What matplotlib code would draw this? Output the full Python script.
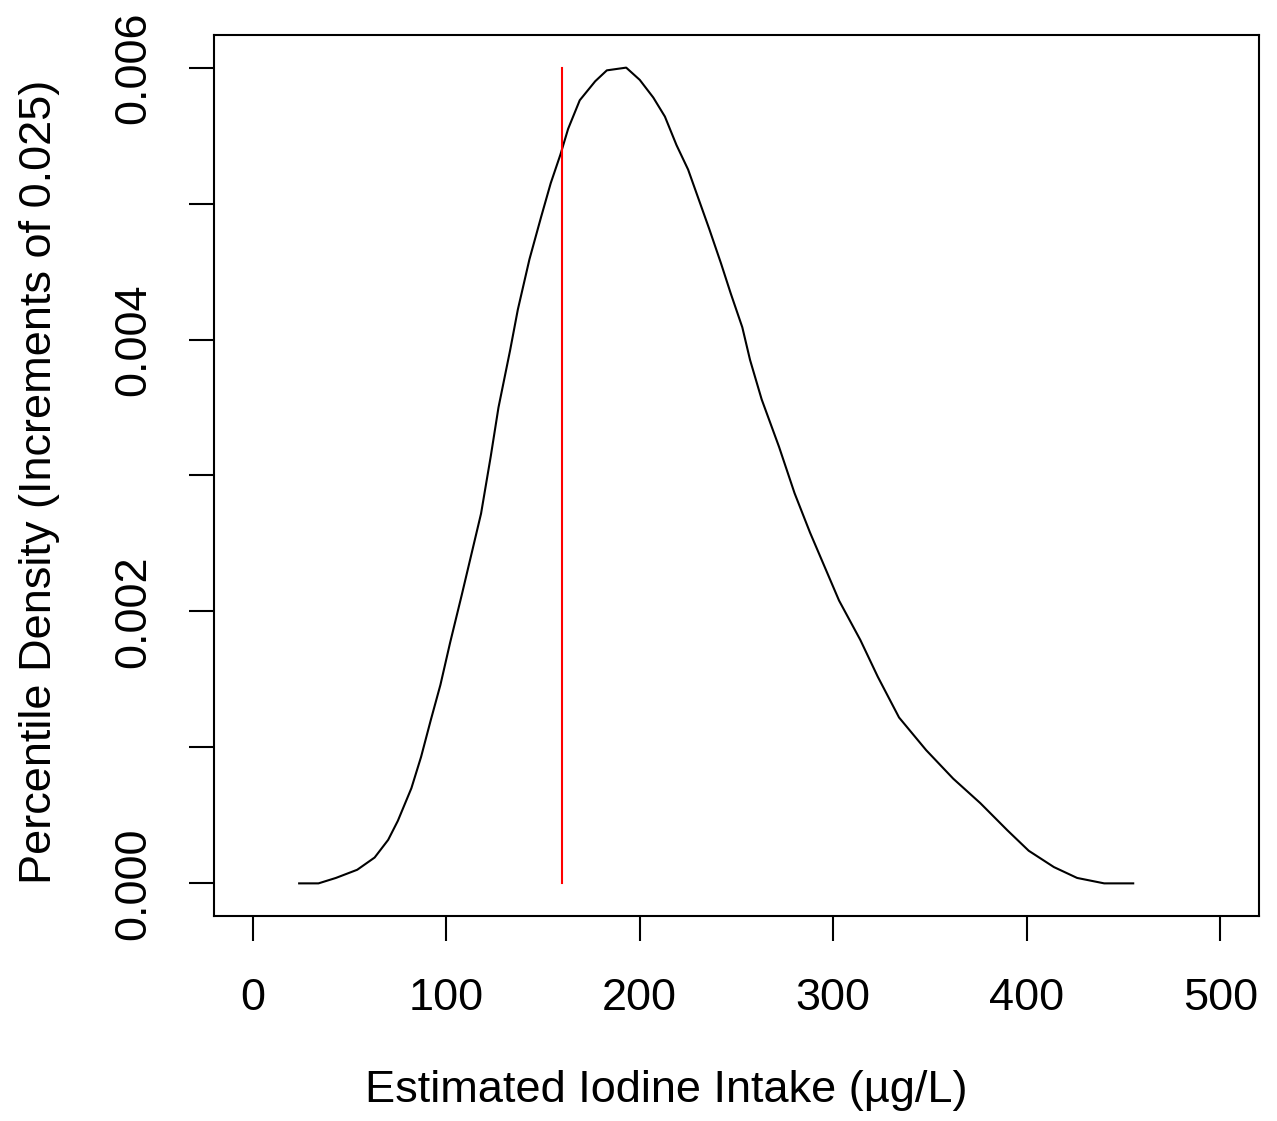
import matplotlib
matplotlib.use("Agg")
import matplotlib.pyplot as plt

# density curve (intake in ug/L, density)
intake = [24, 34, 43, 54, 63, 70, 75, 82, 87, 92, 97, 102, 108, 118, 123, 127,
          133, 137, 143, 149, 154, 159, 163, 169, 177, 183, 193, 200, 207, 213,
          219, 225, 231, 236, 242, 247, 253, 257, 263, 272, 280, 288, 297, 303,
          314, 323, 334, 348, 362, 376, 390, 401, 414, 426, 440, 455]
density = [0.0, 0.0, 0.00004, 0.0001, 0.00019, 0.00032, 0.00046, 0.0007,
           0.00093, 0.0012, 0.00146, 0.00177, 0.00212, 0.00272, 0.00314, 0.00350,
           0.00392, 0.00422, 0.00459, 0.0049, 0.00515, 0.00536, 0.00555, 0.00576,
           0.0059, 0.00598, 0.006, 0.00591, 0.00578, 0.00564, 0.00543, 0.00525,
           0.00501, 0.00481, 0.00456, 0.00434, 0.00409, 0.00385, 0.00356, 0.00321,
           0.00287, 0.00258, 0.00228, 0.00208, 0.00179, 0.00152, 0.00122, 0.00098,
           0.00077, 0.00059, 0.00039, 0.00024, 0.00012, 0.00004, 0.0, 0.0]

ref_x = 160
ref_y = [0.0, 0.006]

x_ticks = [0, 100, 200, 300, 400, 500]
y_ticks = [0.000, 0.001, 0.002, 0.003, 0.004, 0.005, 0.006]
y_labels = ["0.000", "", "0.002", "", "0.004", "", "0.006"]

plt.rcParams["font.family"] = ["Liberation Sans", "DejaVu Sans"]
FS = 32.5

fig = plt.figure(figsize=(12.77, 11.21), dpi=100)
ax = fig.add_axes([214 / 1277, 1 - 916 / 1121, (1259 - 214) / 1277, (916 - 35) / 1121])

ax.plot(intake, density, color="black", lw=1.5)
ax.plot([ref_x, ref_x], ref_y, color="red", lw=1.5)

ax.set_xlim(-20, 520)
ax.set_ylim(-0.00024, 0.00624)
ax.set_xticks(x_ticks)
ax.set_xticklabels([str(v) for v in x_ticks])
ax.set_yticks(y_ticks)
ax.set_yticklabels(y_labels, rotation=90, va="center")

for s in ax.spines.values():
    s.set_linewidth(1.5)
ax.tick_params(axis="both", length=18, width=1.5, labelsize=FS)
ax.tick_params(axis="x", pad=27)
ax.tick_params(axis="y", pad=25)

ax.set_xlabel("Estimated Iodine Intake (µg/L)", fontsize=FS)
ax.set_ylabel("Percentile Density (Increments of 0.025)", fontsize=FS)
ax.xaxis.set_label_coords(0.4325, -0.175)
ax.yaxis.set_label_coords(-0.147, 0.493)

fig.savefig("out.png", dpi=100)
